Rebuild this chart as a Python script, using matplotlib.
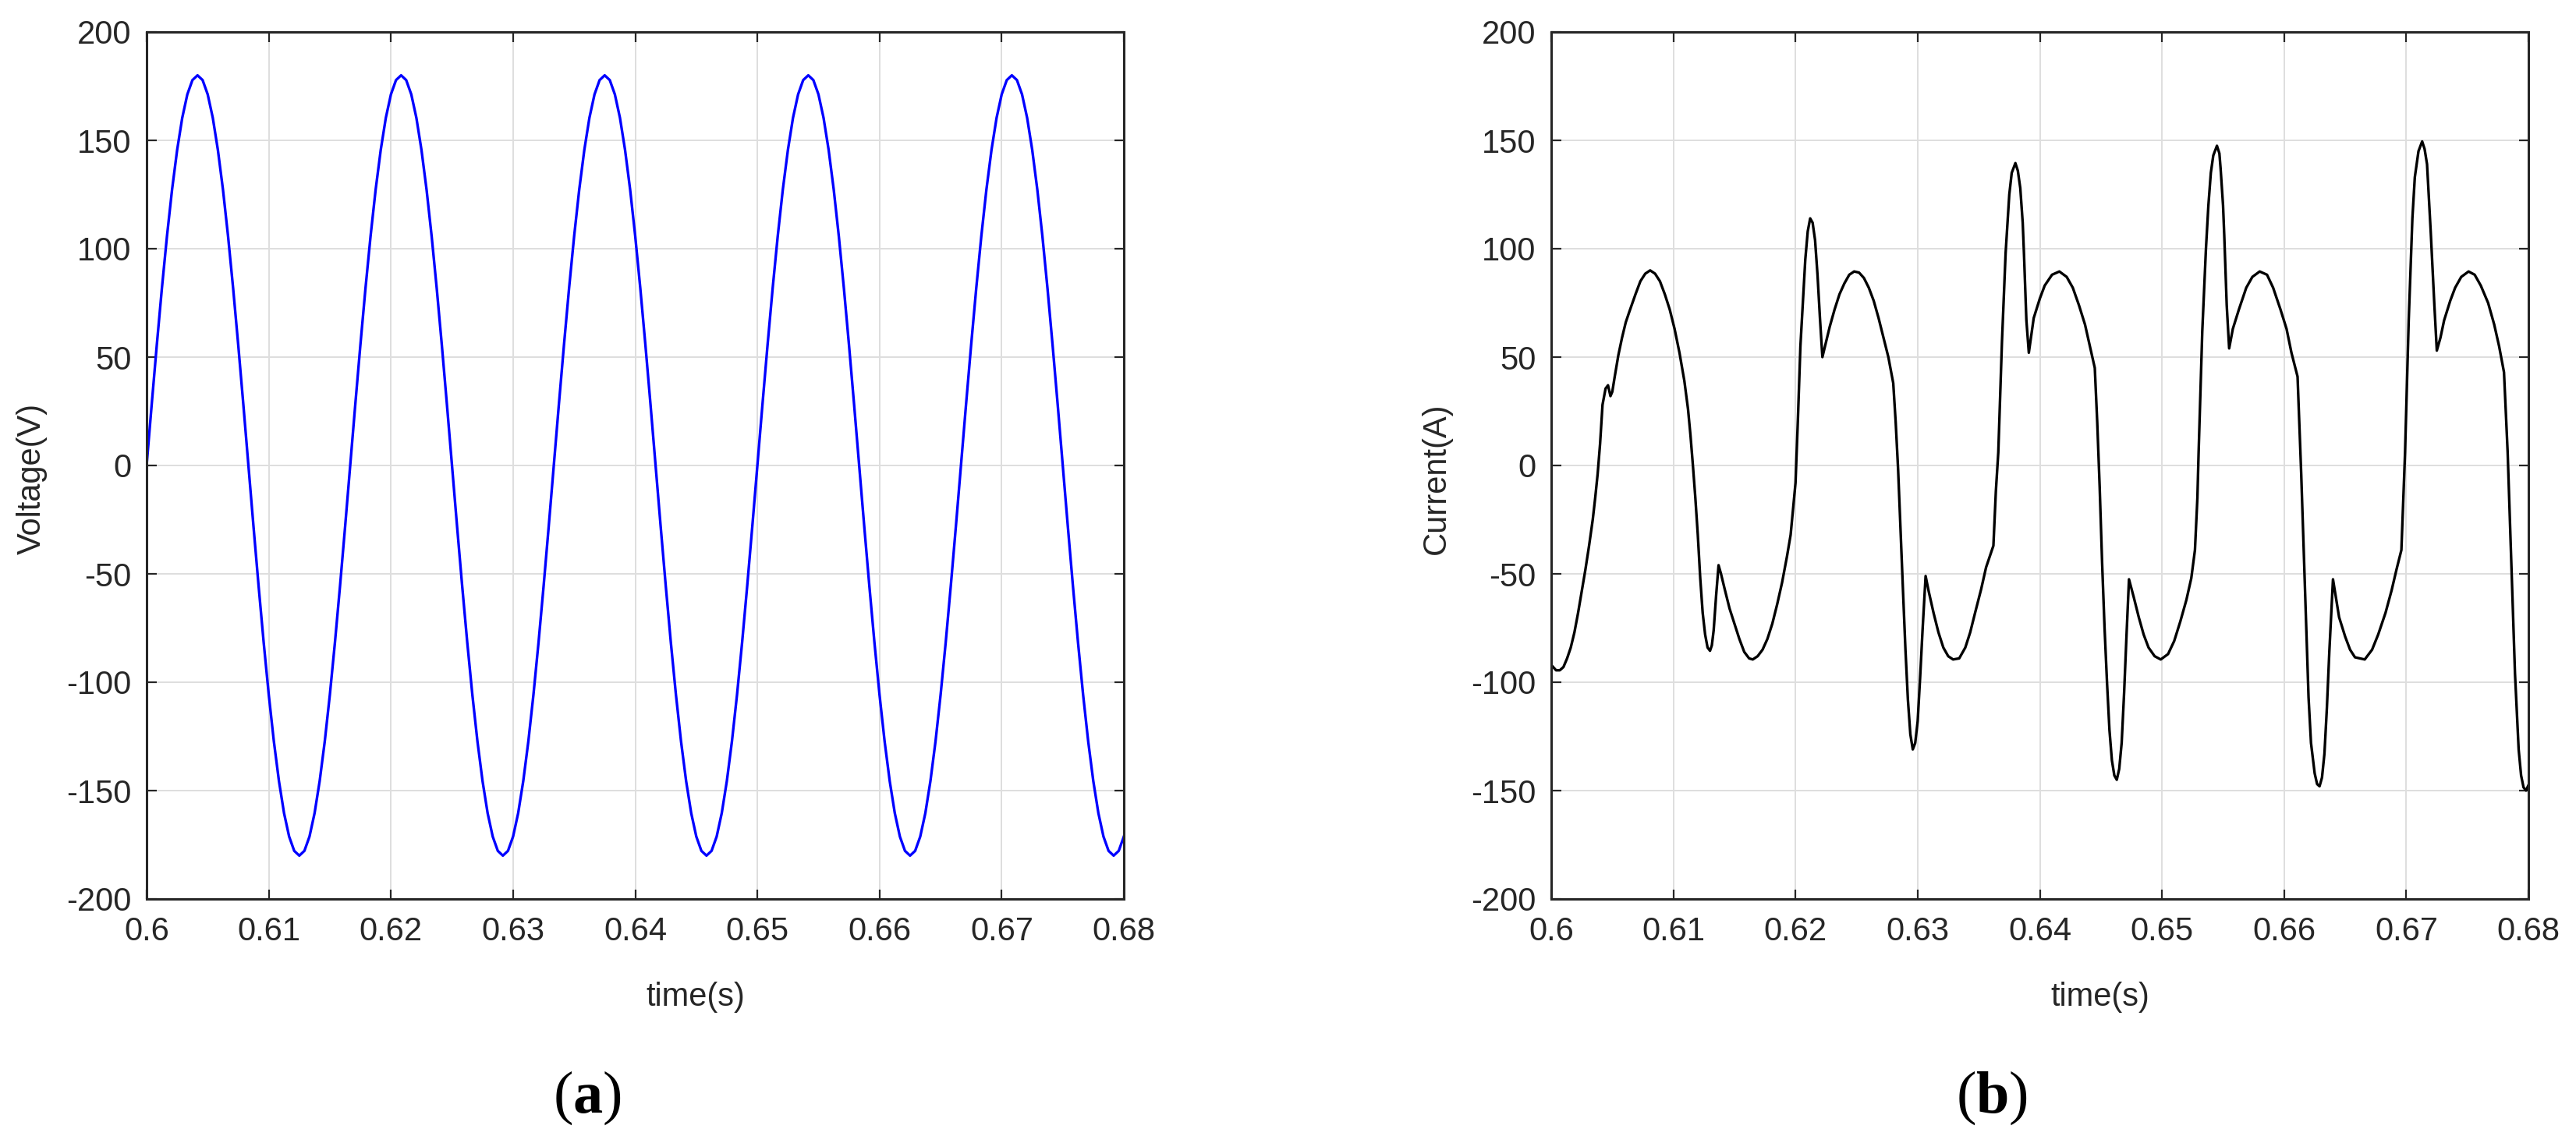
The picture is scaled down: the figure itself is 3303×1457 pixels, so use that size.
import numpy as np
import matplotlib
matplotlib.use("Agg")
import matplotlib.pyplot as plt

plt.rcParams['font.family'] = ['Liberation Sans', 'DejaVu Sans']
plt.rcParams['axes.unicode_minus'] = False
plt.rcParams['mathtext.fontset'] = 'custom'
plt.rcParams['mathtext.bf'] = 'Liberation Serif:bold'
plt.rcParams['mathtext.rm'] = 'Liberation Serif'

# ---------------- data ----------------
x_ticks = [0.6, 0.61, 0.62, 0.63, 0.64, 0.65, 0.66, 0.67, 0.68]
x_tick_labels = ["0.6", "0.61", "0.62", "0.63", "0.64", "0.65", "0.66", "0.67", "0.68"]
y_ticks = [-200, -150, -100, -50, 0, 50, 100, 150, 200]
y_tick_labels = ["-200", "-150", "-100", "-50", "0", "50", "100", "150", "200"]

# (a) supply voltage, sampled evenly from 0.6 s to 0.68 s
voltage = [
    0, 28.2, 55.6, 81.7, 105.8, 127.3, 145.6, 160.4, 171.2, 177.8, 180, 177.8, 171.2, 160.4, 145.6, 127.3, 105.8, 81.7, 55.6, 28.2,
    0, -28.2, -55.6, -81.7, -105.8, -127.3, -145.6, -160.4, -171.2, -177.8, -180, -177.8, -171.2, -160.4, -145.6, -127.3, -105.8, -81.7, -55.6, -28.2,
    0, 28.2, 55.6, 81.7, 105.8, 127.3, 145.6, 160.4, 171.2, 177.8, 180, 177.8, 171.2, 160.4, 145.6, 127.3, 105.8, 81.7, 55.6, 28.2,
    0, -28.2, -55.6, -81.7, -105.8, -127.3, -145.6, -160.4, -171.2, -177.8, -180, -177.8, -171.2, -160.4, -145.6, -127.3, -105.8, -81.7, -55.6, -28.2,
    0, 28.2, 55.6, 81.7, 105.8, 127.3, 145.6, 160.4, 171.2, 177.8, 180, 177.8, 171.2, 160.4, 145.6, 127.3, 105.8, 81.7, 55.6, 28.2,
    0, -28.2, -55.6, -81.7, -105.8, -127.3, -145.6, -160.4, -171.2, -177.8, -180, -177.8, -171.2, -160.4, -145.6, -127.3, -105.8, -81.7, -55.6, -28.2,
    0, 28.2, 55.6, 81.7, 105.8, 127.3, 145.6, 160.4, 171.2, 177.8, 180, 177.8, 171.2, 160.4, 145.6, 127.3, 105.8, 81.7, 55.6, 28.2,
    0, -28.2, -55.6, -81.7, -105.8, -127.3, -145.6, -160.4, -171.2, -177.8, -180, -177.8, -171.2, -160.4, -145.6, -127.3, -105.8, -81.7, -55.6, -28.2,
    0, 28.2, 55.6, 81.7, 105.8, 127.3, 145.6, 160.4, 171.2, 177.8, 180, 177.8, 171.2, 160.4, 145.6, 127.3, 105.8, 81.7, 55.6, 28.2,
    0, -28.2, -55.6, -81.7, -105.8, -127.3, -145.6, -160.4, -171.2, -177.8, -180, -177.8, -171.2,
]
voltage_time = np.linspace(0.6, 0.68, len(voltage))

# (b) line current
current_time = [
    0.6000, 0.6004, 0.6007, 0.6010, 0.6013, 0.6016, 0.6019, 0.6022, 0.6025, 0.6028,
    0.6031, 0.6034, 0.6036, 0.6038, 0.6040, 0.6042, 0.60445, 0.60465, 0.60485, 0.6050,
    0.6052, 0.6055, 0.6058, 0.6061, 0.6064, 0.6069, 0.6073, 0.6077, 0.6081, 0.6085,
    0.6089, 0.6093, 0.6097, 0.6101, 0.6105, 0.6109, 0.6112, 0.6114, 0.6116, 0.6118,
    0.6120, 0.6122, 0.6124, 0.6126, 0.6128, 0.6130, 0.61315, 0.6133, 0.6135, 0.6137,
    0.6139, 0.6142, 0.6146, 0.6150, 0.6154, 0.6158, 0.6162, 0.6165, 0.6169, 0.6173,
    0.6177, 0.6181, 0.6185, 0.6189, 0.6193, 0.6196, 0.6198, 0.6200, 0.6202, 0.6204,
    0.6206, 0.6208, 0.6210, 0.6212, 0.6214, 0.6216, 0.6218, 0.6220, 0.6222, 0.6225,
    0.6228, 0.6232, 0.6236, 0.6240, 0.6244, 0.6248, 0.6252, 0.6256, 0.6260, 0.6264,
    0.6268, 0.6272, 0.6276, 0.6280, 0.6282, 0.6284, 0.6286, 0.6288, 0.6290, 0.6292,
    0.6294, 0.6296, 0.6298, 0.6300, 0.6302, 0.6304, 0.63065, 0.6309, 0.6313, 0.6317,
    0.6321, 0.6325, 0.6329, 0.6334, 0.6339, 0.6343, 0.6347, 0.6352, 0.6356, 0.6362,
    0.6364, 0.6366, 0.6369, 0.6372, 0.6375, 0.6377, 0.6380, 0.6382, 0.6384, 0.6386,
    0.6387, 0.6389, 0.6391, 0.6393, 0.6395, 0.6400, 0.6404, 0.6410, 0.6416, 0.6422,
    0.6427, 0.6432, 0.6437, 0.6441, 0.6445, 0.6447, 0.6449, 0.6451, 0.6453, 0.6455,
    0.6457, 0.6459, 0.6461, 0.6463, 0.6465, 0.6467, 0.6469, 0.6471, 0.6473, 0.6477,
    0.6481, 0.6485, 0.6489, 0.6494, 0.6499, 0.6505, 0.6510, 0.6515, 0.6520, 0.6524,
    0.6527, 0.6529, 0.6530, 0.6533, 0.6536, 0.6538, 0.6540, 0.6542, 0.6545, 0.6547,
    0.6548, 0.6550, 0.6551, 0.6553, 0.6555, 0.6558, 0.6563, 0.6569, 0.6574, 0.6580,
    0.6586, 0.6591, 0.6597, 0.6602, 0.6606, 0.6611, 0.6614, 0.6617, 0.6620, 0.6622,
    0.6625, 0.6627, 0.6629, 0.6631, 0.6633, 0.6635, 0.6637, 0.6640, 0.6645, 0.6650,
    0.6654, 0.6658, 0.6666, 0.6672, 0.6677, 0.6683, 0.6688, 0.6692, 0.6696, 0.6699,
    0.6702, 0.6705, 0.6707, 0.6710, 0.6713, 0.6715, 0.6717, 0.6720, 0.6723, 0.6725,
    0.6728, 0.6731, 0.6736, 0.6740, 0.6745, 0.6751, 0.6756, 0.6761, 0.6767, 0.6772,
    0.6776, 0.6780, 0.6783, 0.6786, 0.6789, 0.6792, 0.6794, 0.6796, 0.6798, 0.6800,
]
current = [
    -92, -94.5, -94.5, -93, -89, -84, -77, -68, -58, -48,
    -37, -25, -15, -4, 10, 28, 35.5, 37, 32, 34,
    41, 51, 59, 66, 71, 79, 85, 88.5, 90, 88.5,
    85, 79, 72, 63, 52, 39, 26, 14, 0, -15,
    -32, -52, -68, -78, -84, -85.5, -83, -76, -60, -46,
    -50, -57, -66, -73, -80, -86, -89, -89.5, -88, -85,
    -80, -73, -64, -54, -42, -32, -20, -8, 22, 55,
    75, 95, 108, 114, 112, 104, 88, 68, 50, 57,
    64, 72, 79, 84, 88, 89.5, 89, 86.5, 82, 76,
    68, 59, 50, 38, 20, -2, -30, -58, -85, -108,
    -124, -131, -128, -118, -98, -76, -51, -58, -68, -77,
    -84, -88, -89.5, -89, -84, -77, -68, -57, -47, -37,
    -12, 6, 57, 98, 125, 135, 139.5, 136, 128, 112,
    98, 67, 52, 60, 68, 77, 83, 88, 89.5, 87,
    82, 74, 65, 55, 45, 20, -10, -45, -75, -100,
    -122, -136, -143, -145, -140, -128, -105, -78, -52.5, -61,
    -70, -78, -84, -88, -89.5, -87, -81, -72, -62, -52,
    -39, -15, 6, 62, 100, 120, 135, 143, 147.5, 144,
    137, 120, 106, 74, 54, 63, 72, 82, 87, 89.5,
    88, 82, 72, 63, 52, 41, -4, -55, -107, -128,
    -142, -147, -148, -144, -133, -112, -86, -52.5, -70, -79,
    -85, -88.5, -89.5, -85, -78, -68, -57.6, -48, -39, 6,
    67, 114, 133, 145, 149.5, 146, 139, 108, 74, 53,
    59, 67, 76, 82, 87, 89.5, 88, 83, 75, 65,
    55, 43, 6, -45, -96, -131, -143, -148.5, -150, -147.5,
]

panels = [
    dict(t=voltage_time, y=voltage, color=(0, 0, 1), ylabel="Voltage(V)", tag="a"),
    dict(t=current_time, y=current, color=(0, 0, 0), ylabel="Current(A)", tag="b"),
]

# ---------------- figure ----------------
W, H, DPI = 3303, 1457, 100
fig = plt.figure(figsize=(W / DPI, H / DPI), dpi=DPI)
fig.patch.set_facecolor("white")

ax_left_px = [188, 1989]
ax_w_px, ax_top_px, ax_bot_px = 1253, 41, 1153
text_col = "#262626"
fs = 30

for p, lx in zip(panels, ax_left_px):
    ax = fig.add_axes([lx / W, (H - ax_bot_px) / H, ax_w_px / W, (ax_bot_px - ax_top_px) / H])
    ax.plot(p["t"], p["y"], color=p["color"], lw=2.4, solid_joinstyle="round")
    ax.set_xlim(0.6, 0.68)
    ax.set_ylim(-200, 200)
    ax.set_xticks(x_ticks)
    ax.set_xticklabels(x_tick_labels)
    ax.set_yticks(y_ticks)
    ax.set_yticklabels(y_tick_labels)
    ax.grid(True, color="#dedede", lw=1.4)
    ax.set_axisbelow(True)
    for s in ax.spines.values():
        s.set_color(text_col)
        s.set_linewidth(2.2)
    ax.tick_params(axis="both", direction="in", length=9, width=1.6, colors=text_col,
                   labelsize=fs, top=True, right=True)
    ax.tick_params(axis="x", pad=16)
    ax.tick_params(axis="y", pad=14)
    ax.text(0.562, -0.123, "time(s)", transform=ax.transAxes, ha="center",
            va="baseline", fontsize=fs, color=text_col)
    ax.text(-0.1173, 0.485, p["ylabel"], transform=ax.transAxes, ha="center",
            va="center", rotation=90, fontsize=fs, color=text_col)
    ax.text(0.451, (ax_bot_px - 1427) / (ax_bot_px - ax_top_px), r"(${\mathbf{%s}}$)" % p["tag"],
            transform=ax.transAxes, ha="center", va="baseline", fontsize=55,
            family="Liberation Serif", color="black")

fig.savefig("out.png", dpi=DPI, facecolor="white")
